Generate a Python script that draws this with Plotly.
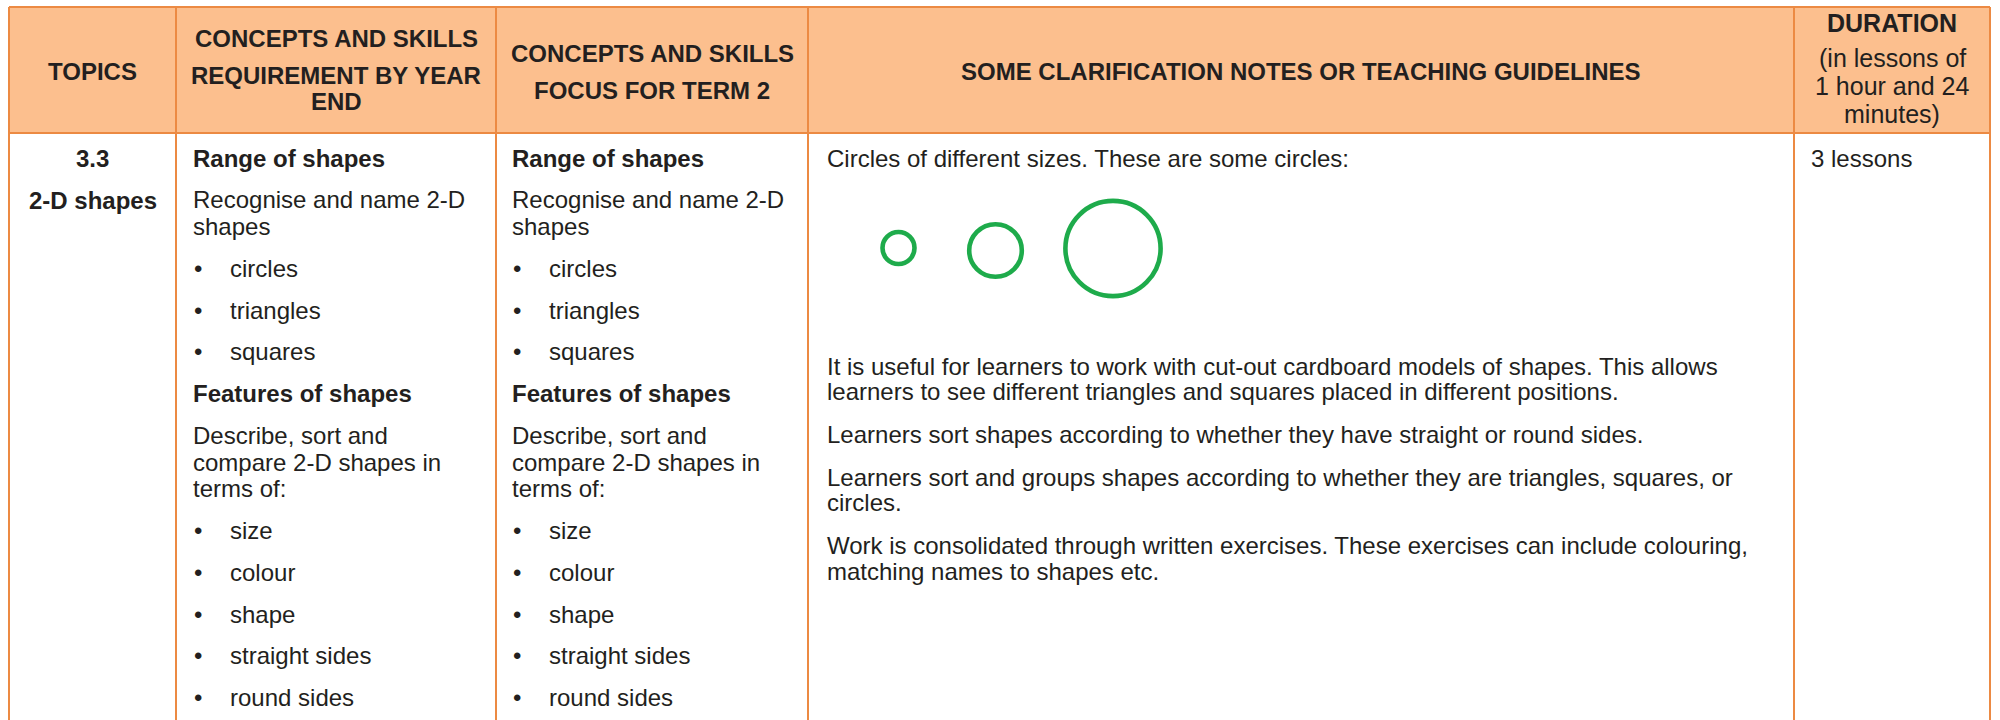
import plotly.graph_objects as go

# ---------------- data ----------------
header_topics = ["TOPICS"]
header_year = ["CONCEPTS AND SKILLS", "REQUIREMENT BY YEAR", "END"]
header_term = ["CONCEPTS AND SKILLS", "FOCUS FOR TERM 2"]
header_notes = ["SOME CLARIFICATION NOTES OR TEACHING GUIDELINES"]
header_duration_title = ["DURATION"]
header_duration_sub = ["(in lessons of", "1 hour and 24", "minutes)"]

topic_number = ["3.3"]
topic_name = ["2-D shapes"]

# (kind, text) - kind: head / para / bullet ; "\n" separates wrapped lines
skills_year = [
    ("head", "Range of shapes"),
    ("para", "Recognise and name 2-D\nshapes"),
    ("bullet", "circles"),
    ("bullet", "triangles"),
    ("bullet", "squares"),
    ("head", "Features of shapes"),
    ("para", "Describe, sort and\ncompare 2-D shapes in\nterms of:"),
    ("bullet", "size"),
    ("bullet", "colour"),
    ("bullet", "shape"),
    ("bullet", "straight sides"),
    ("bullet", "round sides"),
]
skills_term = list(skills_year)

notes_intro = ["Circles of different sizes. These are some circles:"]
notes_paras = [
    "It is useful for learners to work with cut-out cardboard models of shapes. This allows\nlearners to see different triangles and squares placed in different positions.",
    "Learners sort shapes according to whether they have straight or round sides.",
    "Learners sort and groups shapes according to whether they are triangles, squares, or\ncircles.",
    "Work is consolidated through written exercises. These exercises can include colouring,\nmatching names to shapes etc.",
]
duration = ["3 lessons"]

# circle example (centre x, centre y, radius) in page units
circle_cx = [898.5, 995.5, 1113.0]
circle_cy = [248.0, 250.5, 248.5]
circle_r = [16.0, 26.3, 47.6]

# ---------------- layout constants ----------------
W, H = 2000, 720
FONT = "Liberation Sans, Arial, Helvetica, sans-serif"
FS = 24
TXT = "#231f20"
BORDER = "#ec8a43"
HEAD_FILL = "#fcbf8e"
GREEN = "#1eab4b"

col_x = [9, 176, 496, 808, 1794, 1990]
top_y, head_y = 7, 133
row_start = 158
line_gap = 26.6
para_gap = 41.8

fig = go.Figure()
fig.add_trace(go.Scatter(x=[0, W], y=[0, H], mode="markers",
                         marker=dict(opacity=0), hoverinfo="skip", showlegend=False))

shapes = []
shapes.append(dict(type="rect", xref="x", yref="y", x0=col_x[0], x1=col_x[-1],
                   y0=top_y, y1=head_y, fillcolor=HEAD_FILL, line=dict(width=0), layer="below"))
for yy in (top_y, head_y):
    shapes.append(dict(type="line", xref="x", yref="y", x0=col_x[0], x1=col_x[-1],
                       y0=yy, y1=yy, line=dict(color=BORDER, width=2)))
for xx in col_x:
    shapes.append(dict(type="line", xref="x", yref="y", x0=xx, x1=xx,
                       y0=top_y, y1=H + 5, line=dict(color=BORDER, width=2)))
for cx, cy, r in zip(circle_cx, circle_cy, circle_r):
    shapes.append(dict(type="circle", xref="x", yref="y", x0=cx - r, x1=cx + r,
                       y0=cy - r, y1=cy + r, line=dict(color=GREEN, width=4.6)))

annotations = []


def txt(x, y, s, bold=False, anchor="left", size=FS):
    if bold:
        s = "<b>" + s + "</b>"
    annotations.append(dict(x=x, y=y, xref="x", yref="y", text=s, showarrow=False,
                            xanchor=anchor, yanchor="middle",
                            font=dict(family=FONT, size=size, color=TXT)))


# ----- header -----
c = [(col_x[i] + col_x[i + 1]) / 2 for i in range(5)]
txt(c[0], 71, header_topics[0], bold=True, anchor="center")
for s, yy in zip(header_year, [38, 75, 101]):
    txt(c[1], yy, s, bold=True, anchor="center")
for s, yy in zip(header_term, [53, 90]):
    txt(c[2], yy, s, bold=True, anchor="center")
txt(c[3], 71, header_notes[0], bold=True, anchor="center")
txt(c[4], 23, header_duration_title[0], bold=True, anchor="center", size=25)
for s, yy in zip(header_duration_sub, [58, 86, 114]):
    txt(c[4], yy, s, anchor="center", size=25)

# ----- column 1 -----
txt(c[0], row_start, topic_number[0], bold=True, anchor="center")
txt(c[0], row_start + para_gap + 1, topic_name[0], bold=True, anchor="center")


# ----- columns 2 & 3 -----
def skills_column(items, x_text, x_bullet, x_btext):
    y = row_start
    for kind, s in items:
        lines = s.split("\n")
        for j, ln in enumerate(lines):
            if kind == "bullet":
                txt(x_bullet, y, "•")
                txt(x_btext, y, ln)
            else:
                txt(x_text, y, ln, bold=(kind == "head"))
            if j < len(lines) - 1:
                y += line_gap
        y += para_gap


skills_column(skills_year, 191, 192, 228)
skills_column(skills_term, 510, 511, 547)

# ----- column 4 -----
txt(825, row_start, notes_intro[0])
y = 366
for p in notes_paras:
    lines = p.split("\n")
    for j, ln in enumerate(lines):
        txt(825, y, ln)
        if j < len(lines) - 1:
            y += line_gap - 1
    y += para_gap + 1

# ----- column 5 -----
txt(1809, row_start, duration[0])

fig.update_layout(
    width=W, height=H,
    margin=dict(l=0, r=0, t=0, b=0),
    paper_bgcolor="white", plot_bgcolor="white",
    xaxis=dict(range=[0, W], visible=False, fixedrange=True),
    yaxis=dict(range=[H, 0], visible=False, fixedrange=True),
    shapes=shapes, annotations=annotations, showlegend=False,
)

fig.write_html(
    "out.html",
    config={"displayModeBar": False},
    post_script="document.body.style.margin='0';document.body.style.overflow='hidden';",
)
